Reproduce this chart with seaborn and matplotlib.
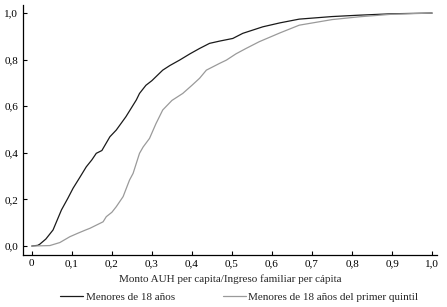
import pandas as pd
import matplotlib
matplotlib.use("Agg")
import matplotlib.pyplot as plt
import seaborn as sns

# CDF of AUH amount / per-capita family income
x_menores = [0.0, 0.015, 0.02, 0.035, 0.053, 0.074, 0.09, 0.103, 0.12, 0.136, 0.15, 0.161,
             0.175, 0.195, 0.211, 0.235, 0.261, 0.269, 0.285, 0.3, 0.327, 0.345, 0.369,
             0.395, 0.419, 0.444, 0.47, 0.502, 0.527, 0.577, 0.62, 0.668, 0.75, 0.818,
             0.9, 1.0]
y_menores = [0.0, 0.003, 0.008, 0.03, 0.069, 0.155, 0.205, 0.248, 0.295, 0.34, 0.37, 0.398,
             0.41, 0.469, 0.498, 0.555, 0.627, 0.655, 0.69, 0.71, 0.755, 0.775, 0.798,
             0.825, 0.848, 0.87, 0.88, 0.891, 0.913, 0.941, 0.958, 0.974, 0.985, 0.991,
             0.997, 1.0]

x_quintil = [0.0, 0.045, 0.07, 0.095, 0.115, 0.136, 0.145, 0.178, 0.186, 0.2, 0.211, 0.228,
             0.244, 0.253, 0.269, 0.278, 0.294, 0.31, 0.327, 0.35, 0.377, 0.4, 0.419, 0.436,
             0.469, 0.486, 0.51, 0.535, 0.568, 0.62, 0.668, 0.75, 0.818, 0.9, 1.0]
y_quintil = [0.0, 0.002, 0.015, 0.04, 0.055, 0.07, 0.076, 0.104, 0.126, 0.145, 0.169, 0.212,
             0.283, 0.312, 0.398, 0.425, 0.462, 0.525, 0.584, 0.625, 0.655, 0.69, 0.72, 0.755,
             0.784, 0.798, 0.825, 0.848, 0.877, 0.915, 0.948, 0.972, 0.984, 0.995, 1.0]

serie_labels = ["Menores de 18 años", "Menores de 18 años del primer quintil"]
x_ticks = [0, 0.1, 0.2, 0.3, 0.4, 0.5, 0.6, 0.7, 0.8, 0.9, 1.0]
x_tick_labels = ["0", "0,1", "0,2", "0,3", "0,4", "0,5", "0,6", "0,7", "0,8", "0,9", "1,0"]
y_ticks = [0, 0.2, 0.4, 0.6, 0.8, 1.0]
y_tick_labels = ["0,0", "0,2", "0,4", "0,6", "0,8", "1,0"]

df = pd.concat([
    pd.DataFrame({"x": x_menores, "y": y_menores, "serie": serie_labels[0]}),
    pd.DataFrame({"x": x_quintil, "y": y_quintil, "serie": serie_labels[1]}),
])

sns.set_style("ticks")
plt.rcParams["font.family"] = ["Liberation Serif", "DejaVu Serif"]
plt.rcParams["font.size"] = 8

fig = plt.figure(figsize=(4.47, 3.07), dpi=100)
ax = fig.add_axes([0.0515, 0.169, 0.926, 0.815])

sns.lineplot(data=df, x="x", y="y", hue="serie", sort=False,
             palette=["#1a1a1a", "#9a9a9a"], linewidth=0.9, ax=ax)

ax.set_xlim(-0.022, 1.012)
ax.set_ylim(-0.039, 1.035)
ax.set_xticks(x_ticks)
ax.set_xticklabels(x_tick_labels)
ax.set_yticks(y_ticks)
ax.set_yticklabels(y_tick_labels)
ax.tick_params(direction="in", length=3, width=0.8, labelsize=8, colors="black")
ax.tick_params(axis="x", pad=3)
ax.set_xlabel("Monto AUH per capita/Ingreso familiar per cápita", fontsize=8, labelpad=4)
ax.set_ylabel("")
sns.despine(ax=ax)
for s in ["left", "bottom"]:
    ax.spines[s].set_linewidth(0.9)
    ax.spines[s].set_color("black")

ax.legend(loc="center left", bbox_to_anchor=(0.089, -0.168), ncol=2, frameon=False,
          fontsize=8, handlelength=2.07, columnspacing=4.3, handletextpad=0.25,
          borderpad=0, borderaxespad=0)

fig.savefig("out.png", dpi=100)
